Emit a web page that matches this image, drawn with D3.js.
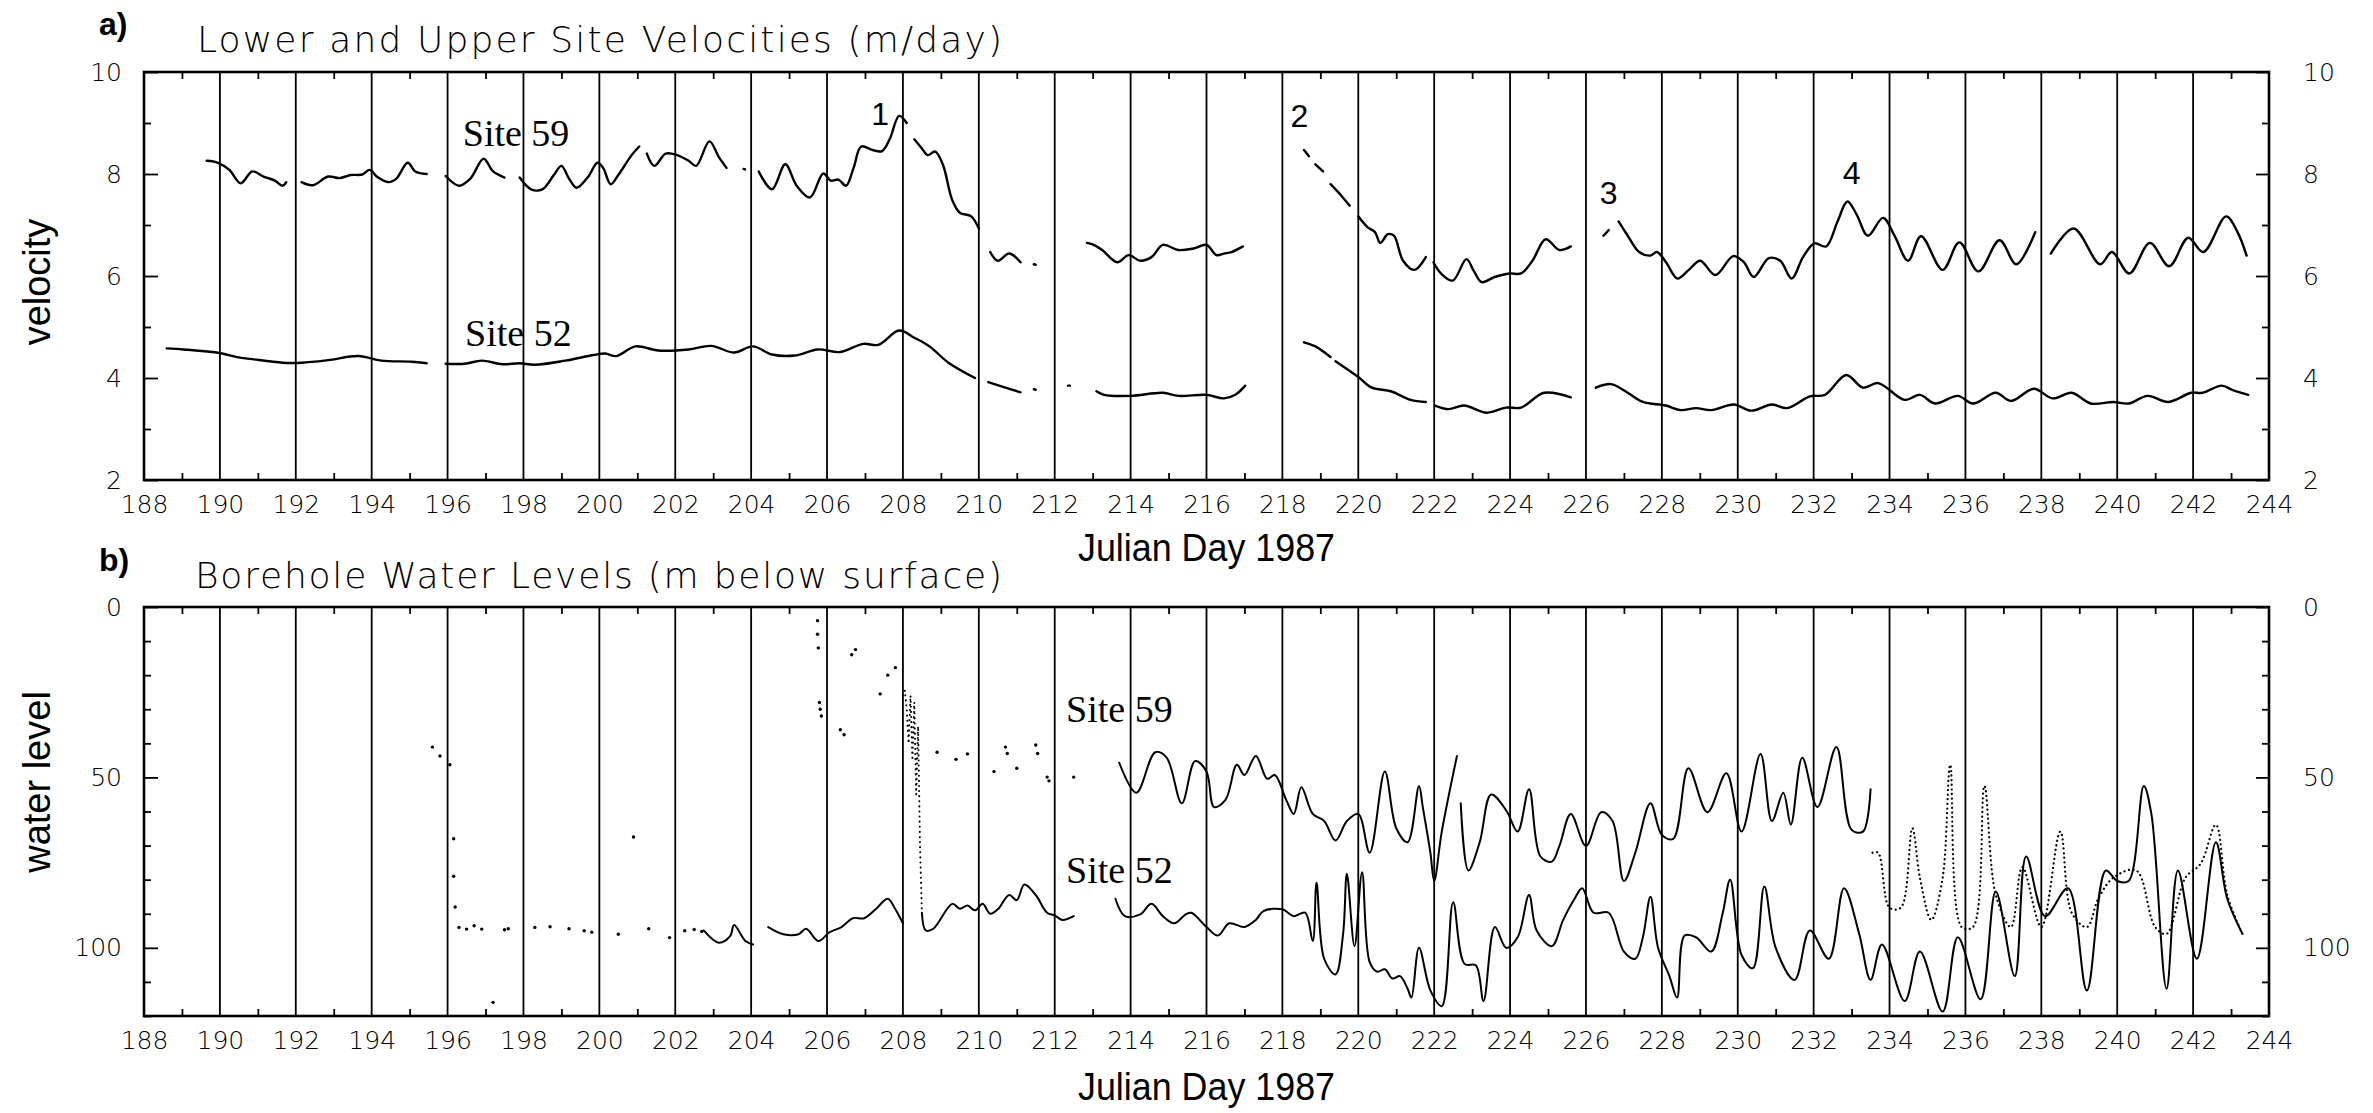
<!DOCTYPE html>
<html>
<head>
<meta charset="utf-8">
<script src="https://cdn.jsdelivr.net/npm/d3@7"></script>
<style>
  html, body { margin: 0; padding: 0; background: #fff; }
  svg { display: block; }
</style>
</head>
<body>
<script>
// ---------------- DATA ----------------
const xTickLabels = d3.range(188, 245, 2);          // 188 ... 244
const gridDays = d3.range(190, 243, 2);             // vertical gridlines
const minorDays = d3.range(189, 244, 2);            // odd-day ticks
const velTicks = d3.range(2, 11, 1);
const velLabels = [2, 4, 6, 8, 10];
const wlTicks = d3.range(0, 121, 10);
const wlLabels = [0, 50, 100];

// Panel a: velocities (m/day)  [day, value], null = gap
const vel59 = [
  [189.65,8.26],[189.95,8.22],[190.25,8.08],[190.55,7.82],[190.85,8.05],[191.15,7.95],[191.45,7.87],[191.65,7.77],[191.75,7.84],null,
  [192.15,7.84],[192.45,7.78],[192.85,7.95],[193.15,7.92],[193.45,7.98],[193.75,7.99],[193.95,8.08],[194.15,7.94],[194.45,7.84],[194.65,7.91],[194.95,8.22],[195.15,8.05],[195.45,8.0],null,
  [195.95,7.96],[196.3,7.77],[196.6,7.91],[196.95,8.30],[197.2,8.05],[197.5,7.93],null,
  [197.9,7.93],[198.2,7.7],[198.5,7.7],[198.8,7.98],[199.0,8.16],[199.2,7.91],[199.4,7.73],[199.7,7.94],[199.95,8.22],[200.1,8.12],[200.3,7.8],[200.5,7.98],[200.85,8.37],[201.05,8.54],null,
  [201.25,8.40],[201.45,8.16],[201.75,8.40],[202.05,8.37],[202.35,8.26],[202.55,8.16],[202.9,8.64],[203.15,8.33],[203.35,8.12],null,
  [203.8,8.1],[203.84,8.09],null,
  [204.2,8.05],[204.55,7.70],[204.9,8.19],[205.2,7.77],[205.55,7.54],[205.9,8.01],[206.1,7.87],[206.3,7.89],[206.5,7.77],[206.7,8.12],[206.9,8.54],[207.2,8.47],[207.45,8.45],[207.65,8.68],[207.9,9.14],[208.1,9.0],null,
  [208.3,8.68],[208.5,8.5],[208.65,8.37],[208.85,8.44],[209.05,8.19],[209.3,7.49],[209.5,7.24],[209.8,7.17],[210.0,6.93],null,
  [210.3,6.47],[210.5,6.30],[210.8,6.44],[211.1,6.27],null,[211.45,6.23],[211.5,6.22],null,
  [212.85,6.65],[213.0,6.62],[213.25,6.51],[213.65,6.27],[213.95,6.41],[214.25,6.30],[214.55,6.37],[214.85,6.61],[215.25,6.51],[215.66,6.54],[216.0,6.61],[216.26,6.41],[216.46,6.44],[216.66,6.47],[216.96,6.58],null,
  [218.57,8.47],[218.7,8.35],null,[218.87,8.19],[219.07,8.05],null,[219.27,7.8],[219.57,7.56],[219.77,7.38],null,
  [220.0,7.17],[220.24,6.96],[220.44,6.86],[220.58,6.65],[220.78,6.82],[220.94,6.79],[221.18,6.30],[221.48,6.12],[221.78,6.37],null,
  [221.98,6.27],[222.18,6.05],[222.49,5.91],[222.85,6.33],[223.05,6.09],[223.25,5.88],[223.59,5.98],[223.99,6.05],[224.29,6.05],[224.59,6.30],[224.94,6.72],[225.3,6.51],[225.6,6.58],null,
  [226.46,6.79],[226.6,6.9],null,
  [226.86,7.07],[227.1,6.79],[227.4,6.47],[227.7,6.4],[227.87,6.47],[228.11,6.27],[228.41,5.95],[228.71,6.12],[229.01,6.3],[229.41,6.02],[229.88,6.39],[230.16,6.27],[230.42,5.98],[230.82,6.35],[231.12,6.3],[231.42,5.95],[231.72,6.37],[232.02,6.64],[232.33,6.58],[232.63,7.07],[232.89,7.46],[233.13,7.21],[233.43,6.79],[233.83,7.14],[234.13,6.79],[234.49,6.3],[234.83,6.78],[235.4,6.12],[235.84,6.66],[236.34,6.09],[236.9,6.7],[237.34,6.23],[237.84,6.86],null,
  [238.25,6.44],[238.85,6.93],[239.55,6.23],[239.86,6.47],[240.32,6.05],[240.86,6.65],[241.37,6.19],[241.87,6.75],[242.27,6.47],[242.87,7.17],[243.17,6.86],[243.41,6.40]
];

const vel52 = [
  [188.6,4.58],[189.05,4.56],[190.0,4.49],[190.45,4.41],[190.85,4.37],[191.65,4.30],[192.15,4.30],[192.85,4.35],[193.65,4.43],[194.25,4.34],[195.05,4.32],[195.45,4.29],null,
  [195.95,4.28],[196.45,4.28],[196.9,4.34],[197.45,4.27],[197.9,4.29],[198.3,4.26],[199.1,4.34],[199.85,4.45],[200.15,4.48],[200.45,4.43],[200.95,4.62],[201.55,4.54],[202.35,4.56],[202.95,4.63],[203.55,4.5],[204.05,4.62],[204.55,4.46],[205.15,4.44],[205.75,4.56],[206.35,4.51],[206.95,4.67],[207.35,4.65],[207.9,4.93],[208.3,4.79],[208.7,4.62],[209.2,4.30],[209.9,4.0],null,
  [210.25,3.92],[210.7,3.81],[211.1,3.72],null,[211.45,3.78],[211.5,3.77],null,[212.35,3.85],[212.4,3.85],null,
  [213.1,3.74],[213.3,3.67],[214.0,3.65],[214.85,3.71],[215.26,3.65],[216.0,3.67],[216.46,3.6],[216.76,3.67],[217.02,3.85],null,
  [218.57,4.70],[218.87,4.62],[219.27,4.41],null,[219.4,4.33],[220.0,4.02],[220.36,3.81],[220.86,3.74],[221.38,3.57],[221.78,3.53],null,
  [222.02,3.46],[222.38,3.39],[222.79,3.46],[223.39,3.32],[223.89,3.42],[224.29,3.42],[224.9,3.71],[225.6,3.62],null,
  [226.26,3.81],[226.66,3.88],[227.1,3.71],[227.5,3.53],[228.1,3.46],[228.5,3.37],[228.9,3.41],[229.3,3.37],[229.9,3.48],[230.35,3.36],[230.9,3.48],[231.3,3.41],[231.9,3.64],[232.3,3.67],[232.86,4.06],[233.3,3.81],[233.7,3.90],[234.4,3.57],[234.8,3.67],[235.2,3.50],[235.8,3.65],[236.2,3.50],[236.8,3.71],[237.2,3.55],[237.8,3.79],[238.3,3.6],[238.8,3.71],[239.3,3.50],[239.9,3.53],[240.3,3.50],[240.8,3.65],[241.35,3.53],[241.95,3.71],[242.25,3.71],[242.75,3.85],[243.05,3.76],[243.45,3.67]
];

// Panel b: borehole water levels (m below surface)
const wl59Solid = [
  [213.7,45.7],[214.15,54.5],[214.65,42.6],[214.95,44.2],[215.35,57.6],[215.7,45.2],[216.0,48.3],[216.2,58.7],[216.5,56.6],[216.8,46.3],[217.0,49.3],[217.3,43.7],[217.6,50.4],[217.8,49.3],[218.1,56.6],[218.3,60.7],[218.5,52.9],[218.8,60.7],[219.1,62.8],[219.4,68.5],[219.7,62.8],[220.0,60.7],[220.3,72.1],[220.7,48.3],[221.0,64.9],[221.3,69.0],[221.6,52.5],[221.7,58.7],[221.9,72.1],[222.0,80.4],[222.2,65.9],[222.6,43.7],null,
  [222.7,57.6],[222.9,77.3],[223.2,69.0],[223.5,55.0],[223.9,59.7],[224.2,65.9],[224.5,53.5],[224.8,73.2],[225.1,74.7],[225.3,70.1],[225.6,60.7],[226.0,70.1],[226.4,60.2],[226.7,62.8],[227.0,80.4],[227.3,72.1],[227.7,57.6],[228.0,66.9],[228.3,68.0],[228.7,47.3],[229.2,60.2],[229.7,48.8],[230.1,65.9],[230.6,43.1],[230.9,62.8],[231.2,54.5],[231.4,63.8],[231.7,44.2],[232.1,58.7],[232.6,41.1],[233.0,65.4],[233.3,65.9],[233.5,53.5]
];
const wl59Dotted = [
  [233.55,72.1],[233.7,72.1],[234.0,88.2],[234.3,88.2],[234.6,64.9],[234.8,79.4],[235.1,91.8],[235.4,79.4],[235.6,46.3],[235.9,93.9],[236.2,93.9],[236.5,52.5],[236.8,84.5],[237.2,93.9],[237.5,76.3],[238.0,93.9],[238.5,65.9],[238.8,89.7],[239.2,93.9],[239.5,85.6],[239.9,79.4],[240.5,77.3],[241.0,93.9],[241.3,95.9],[241.8,79.4],[242.2,75.3],[242.6,63.9],[242.9,84.5],[243.3,95.9]
];
const wl59Spike = [
  [208.0,26],[208.05,24.5],[208.1,30],[208.15,40],[208.2,26],[208.25,45],[208.3,28],[208.35,55],[208.4,35],[208.45,70],[208.5,89.7]
];
const wl59Points = [
  [195.6,41.1],[195.8,43.7],[196.06,46.3],[205.75,4],[205.75,8],[205.77,12],[205.8,28],[205.82,30],[205.85,32],[206.35,36],[206.45,37.5],
  [206.65,14],[206.75,12.5],[207.4,25.5],[207.6,20],[207.8,17.8],[208.9,42.6],[209.4,44.7],[209.7,43.1],[210.4,48.3],[210.7,41.1],
  [210.75,43],[211.0,47.3],[211.5,40.5],[211.55,43],[211.8,49.9],[211.85,51],[212.5,49.9]
];

const wl52Solid = [
  [202.75,94.9],[203.15,98.5],[203.45,96.5],[203.55,93.3],[203.85,98],[204.05,99],null,
  [204.45,93.9],[204.85,96],[205.25,96],[205.45,94.4],[205.77,98],[206.07,95.4],[206.38,93.9],[206.68,91.3],[206.98,91.3],[207.28,88.7],[207.6,85.6],[207.8,88.7],[208.0,92.8],null,
  [208.5,89.7],[208.6,94.9],[208.8,94.4],[209.3,87.1],[209.5,88.5],[209.7,87.6],[209.9,89],[210.1,87.1],[210.3,90],[210.5,88.7],[210.8,84.5],[211.0,86],[211.2,81.4],[211.5,84.5],[211.8,89.7],[212.0,90.5],[212.2,91.8],[212.5,90.7],null,
  [213.6,85.6],[213.85,90.7],[214.25,90.2],[214.55,87.1],[214.85,90.7],[215.15,92.8],[215.45,90.2],[215.6,89.7],[216.0,93.9],[216.3,96.4],[216.6,92.8],[217.0,93.9],[217.3,91.8],[217.5,89.2],[218.0,88.7],[218.3,90.7],[218.6,89.7],[218.8,98.0],
  [218.9,80.9],[219.1,103.2],[219.4,107.8],[219.6,95.9],[219.7,78.3],[219.9,99.5],[220.1,77.8],[220.3,104.2],[220.5,107],[220.7,106.3],[220.9,109],[221.1,108.3],[221.3,112],[221.4,114.6],[221.6,100.0],[221.9,112.5],[222.2,117.1],[222.5,86.6],[222.8,104.7],[223.1,105.2],[223.3,115.6],[223.6,93.9],[223.9,100.0],[224.2,96.9],[224.5,84.5],[224.7,94.9],[225.1,99.5],[225.4,91.8],[225.7,85.6],[225.9,82.5],[226.2,89.7],[226.6,89.7],[227.0,101.1],[227.3,103.2],[227.5,96.9],
  [227.7,85],[227.9,100],[228.2,108.3],[228.4,114.6],[228.6,96.4],[228.9,96.9],[229.3,101.1],[229.6,90],[229.8,80],[230.1,102.1],[230.4,106],[230.7,82.0],[231.0,100],[231.5,109.4],[231.9,94.9],[232.4,103.2],[232.8,82.5],[233.2,95.9],[233.5,109.4],[233.8,99.0],[234.4,115.6],[234.8,101.1],[235.4,118.7],[235.8,96.9],[236.4,115.1],[236.8,83.5],[237.3,108.3],[237.6,73.2],[238.1,90.7],[238.7,82.5],[239.2,112.5],[239.7,77.3],[240.0,80.4],[240.3,80.4],[240.7,52.5],[240.9,60.7],[241.3,112.0],[241.6,77.3],[242.1,103.2],[242.6,69.0],[242.9,85.6],[243.3,95.9]
];
const wl52Points = [
  [196.16,68],[196.16,79],[196.2,88],[196.3,94],[196.5,94.5],[196.7,93.5],[196.9,94.5],[197.2,116],[197.5,94.7],[197.6,94.4],
  [198.3,94],[198.7,93.8],[199.2,94.4],[199.6,95],[199.8,95.4],[200.5,96],[200.9,67.5],[201.3,94.4],[201.85,97],[202.25,95],[202.5,94.6],[202.7,95.2]
];

// Annotations (day, value)
const velPeaks = [
  { label: "1", day: 207.4, v: 8.96 },
  { label: "2", day: 218.45, v: 8.92 },
  { label: "3", day: 226.6, v: 7.41 },
  { label: "4", day: 233.0, v: 7.80 }
];
const velSites = [ { label: "Site 59", day: 196.4, v: 8.55 }, { label: "Site 52", day: 196.46, v: 4.63 } ];
const wlSites = [ { label: "Site 59", day: 212.3, v: 33.7 }, { label: "Site 52", day: 212.3, v: 81.0 } ];

// ---------------- DRAWING ----------------
const W = 2373, H = 1113;
const svg = d3.select("body").append("svg").attr("width", W).attr("height", H);
svg.append("rect").attr("width", W).attr("height", H).attr("fill", "#fff");

const x = d3.scaleLinear().domain([188, 244]).range([144, 2269]);
const ya = d3.scaleLinear().domain([2, 10]).range([480, 72]);
const yb = d3.scaleLinear().domain([0, 120]).range([607, 1016]);

const TICKFONT = '"DejaVu Sans", sans-serif';

function drawFrame(y, yTicks, yLabels) {
  const yBottom = Math.max(...y.range());
  const yTop = Math.min(...y.range());
  const g = svg.append("g");
  // gridlines
  g.selectAll("line.grid").data(gridDays).join("line")
    .attr("x1", d => x(d)).attr("x2", d => x(d))
    .attr("y1", yTop).attr("y2", yBottom)
    .attr("stroke", "#000").attr("stroke-width", 1.8);

  // minor x ticks top & bottom (inward)
  const bMinor = g.append("g").attr("transform", `translate(0,${yBottom})`)
    .call(d3.axisBottom(x).tickValues(minorDays).tickSize(-7).tickFormat(""));
  const tMinor = g.append("g").attr("transform", `translate(0,${yTop})`)
    .call(d3.axisTop(x).tickValues(minorDays).tickSize(-7).tickFormat(""));
  [bMinor, tMinor].forEach(a => { a.select(".domain").remove(); a.selectAll("line").attr("stroke-width", 1.8); });

  // x labels
  const gx = g.append("g").attr("transform", `translate(0,${yBottom})`)
    .call(d3.axisBottom(x).tickValues(xTickLabels).tickSize(0).tickPadding(15).tickFormat(d3.format("d")));
  gx.select(".domain").remove();
  gx.attr("font-family", TICKFONT).attr("font-size", 25).attr("font-weight", 300);
  gx.selectAll("text").attr("fill", "#000");

  // y ticks (minor + major) left & right
  const minorY = yTicks.filter(t => !yLabels.includes(t));
  const gl = g.append("g").attr("transform", `translate(${x.range()[0]},0)`)
    .call(d3.axisLeft(y).tickValues(minorY).tickSize(-7).tickFormat(""));
  const gr = g.append("g").attr("transform", `translate(${x.range()[1]},0)`)
    .call(d3.axisRight(y).tickValues(minorY).tickSize(-7).tickFormat(""));
  const glM = g.append("g").attr("transform", `translate(${x.range()[0]},0)`)
    .call(d3.axisLeft(y).tickValues(yLabels).tickSize(-14).tickPadding(22).tickFormat(d3.format("d")));
  const grM = g.append("g").attr("transform", `translate(${x.range()[1]},0)`)
    .call(d3.axisRight(y).tickValues(yLabels).tickSize(-13).tickPadding(34).tickFormat(d3.format("d")));
  [gl, gr, glM, grM].forEach(a => {
    a.select(".domain").remove();
    a.selectAll("line").attr("stroke-width", 1.8);
    a.attr("font-family", TICKFONT).attr("font-size", 25).attr("font-weight", 300);
    a.selectAll("text").attr("fill", "#000");
  });

  // frame
  g.append("rect")
    .attr("x", x.range()[0]).attr("y", yTop)
    .attr("width", x.range()[1] - x.range()[0]).attr("height", yBottom - yTop)
    .attr("fill", "none").attr("stroke", "#000").attr("stroke-width", 2.6);
}

drawFrame(ya, velTicks, velLabels);
drawFrame(yb, wlTicks, wlLabels);

function drawLine(data, y, opts = {}) {
  const line = d3.line()
    .defined(d => d !== null)
    .x(d => x(d[0])).y(d => y(d[1]))
    .curve(opts.linear ? d3.curveLinear : d3.curveCatmullRom.alpha(0.5));
  const p = svg.append("path").datum(data)
    .attr("d", line)
    .attr("fill", "none").attr("stroke", "#000")
    .attr("stroke-width", opts.width || 2.4)
    .attr("stroke-linejoin", "round").attr("stroke-linecap", "round");
  if (opts.dash) p.attr("stroke-dasharray", opts.dash);
  return p;
}
function drawPoints(data, y) {
  svg.append("g").selectAll("circle").data(data).join("circle")
    .attr("cx", d => x(d[0])).attr("cy", d => y(d[1])).attr("r", 1.7).attr("fill", "#000");
}

// Panel a lines
drawLine(vel59, ya);
drawLine(vel52, ya);

// Panel b lines
drawLine(wl52Solid, yb, { width: 2.0 });
drawLine(wl59Solid, yb, { width: 2.0 });
drawLine(wl59Dotted, yb, { width: 2.2, dash: "0.1,4.5" });
drawLine(wl59Spike, yb, { width: 2, dash: "0.1,5", linear: true });
drawPoints(wl59Points, yb);
drawPoints(wl52Points, yb);

// ---------------- TEXT ----------------
const TITLEFONT = '"DejaVu Sans", sans-serif';
svg.append("text").attr("x", 99).attr("y", 35).text("a)")
  .attr("font-family", '"Liberation Sans", Arial, sans-serif').attr("font-weight", "bold").attr("font-size", 32);
svg.append("text").attr("x", 197).attr("y", 52).text("Lower and Upper Site Velocities (m/day)")
  .attr("font-family", TITLEFONT).attr("font-weight", 300).attr("font-size", 36)
  .attr("textLength", 805).attr("lengthAdjust", "spacing");
svg.append("text").attr("x", 99).attr("y", 571).text("b)")
  .attr("font-family", '"Liberation Sans", Arial, sans-serif').attr("font-weight", "bold").attr("font-size", 32);
svg.append("text").attr("x", 195).attr("y", 588).text("Borehole Water Levels (m below surface)")
  .attr("font-family", TITLEFONT).attr("font-weight", 300).attr("font-size", 36)
  .attr("textLength", 807).attr("lengthAdjust", "spacing");

const cx = (x.range()[0] + x.range()[1]) / 2;
[561, 1100].forEach(yy => {
  svg.append("text").attr("x", cx).attr("y", yy).attr("text-anchor", "middle")
    .text("Julian Day 1987")
    .attr("font-family", '"Liberation Sans", Arial, sans-serif').attr("font-size", 38)
    .attr("textLength", 257).attr("lengthAdjust", "spacingAndGlyphs");
});

[["velocity", 282], ["water level", 782]].forEach(([t, yy]) => {
  svg.append("text").attr("transform", `translate(50,${yy}) rotate(-90)`)
    .attr("text-anchor", "middle").text(t)
    .attr("font-family", '"Liberation Sans", Arial, sans-serif').attr("font-size", 38);
});

svg.append("g").selectAll("text").data(velPeaks).join("text")
  .attr("x", d => x(d.day)).attr("y", d => ya(d.v)).attr("text-anchor", "middle")
  .text(d => d.label)
  .attr("font-family", '"Liberation Sans", Arial, sans-serif').attr("font-size", 32);

svg.append("g").selectAll("text").data(velSites).join("text")
  .attr("x", d => x(d.day)).attr("y", d => ya(d.v)).text(d => d.label)
  .attr("font-family", '"Liberation Serif", "Times New Roman", serif').attr("font-size", 38);
svg.append("g").selectAll("text").data(wlSites).join("text")
  .attr("x", d => x(d.day)).attr("y", d => yb(d.v)).text(d => d.label)
  .attr("font-family", '"Liberation Serif", "Times New Roman", serif').attr("font-size", 38);
</script>
</body>
</html>
